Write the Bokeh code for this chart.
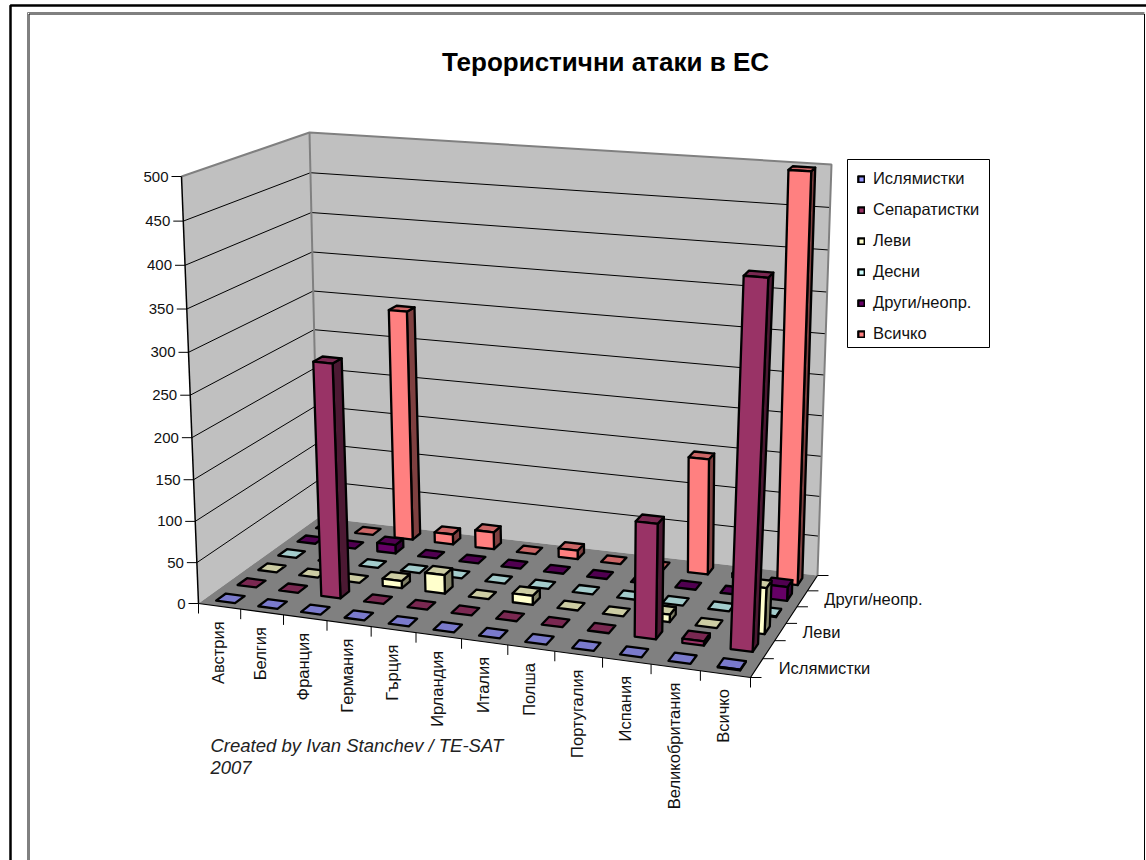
import numpy as np
from bokeh.core.properties import value
from bokeh.embed import file_html
from bokeh.models import Legend, LegendItem
from bokeh.plotting import figure
from bokeh.resources import INLINE

TITLE = "Терористични атаки в ЕС"
NOTE = ["Created by Ivan Stanchev / TE-SAT", "2007"]
categories = ["Австрия", "Белгия", "Франция", "Германия", "Гърция", "Ирландия", "Италия",
              "Полша", "Португалия", "Испания", "Великобритания", "Всичко"]
series_names = ["Ислямистки", "Сепаратистки", "Леви", "Десни", "Други/неопр.", "Всичко"]
depth_labels = {0: "Ислямистки", 2: "Леви", 4: "Други/неопр."}
islamist = [0, 0, 0, 0, 0, 0, 0, 0, 0, 0, 0, 1]
separatist = [0, 0, 283, 0, 0, 0, 0, 0, 0, 136, 5, 424]
left_wing = [0, 0, 0, 9, 23, 0, 11, 0, 0, 9, 0, 55]
right_wing = [0, 0, 0, 0, 0, 0, 0, 0, 0, 0, 0, 1]
other = [0, 0, 11, 0, 0, 0, 0, 0, 0, 0, 0, 17]
total = [0, 0, 294, 13, 22, 0, 11, 0, 0, 145, 5, 498]
series_values = [islamist, separatist, left_wing, right_wing, other, total]
value_ticks = [0, 50, 100, 150, 200, 250, 300, 350, 400, 450, 500]
front_colors = ["#9999FF", "#993366", "#FFFFCC", "#CCFFFF", "#660066", "#FF8080"]

# Camera calibration of the 3-D box: corners on screen
FLOOR = {"fl": (198, 603), "fr": (750, 677), "br": (817, 575), "bl": (318, 517)}
CEIL = {"fl": (181, 176), "fr": (772, 222), "br": (831, 164), "bl": (309, 132)}
VMAX, NC, NS = 500.0, len(categories), len(series_names)
BAR = 0.45
HEIGHT_PERSPECTIVE = 0.05
FONT = value("Liberation Sans")


def homography(c):
    src = [(0, 0), (1, 0), (1, 1), (0, 1)]
    dst = [c["fl"], c["fr"], c["br"], c["bl"]]
    A, b = [], []
    for (u, w), (x, y) in zip(src, dst):
        A.append([u, w, 1, 0, 0, 0, -u * x, -w * x]); b.append(x)
        A.append([0, 0, 0, u, w, 1, -u * y, -w * y]); b.append(y)
    return np.append(np.linalg.solve(np.array(A, float), np.array(b, float)), 1).reshape(3, 3)


HF, HC = homography(FLOOR), homography(CEIL)


def project(cat, ser, val=0.0):
    """category position, series position, value -> screen point"""
    q = np.array([cat / NC, ser / NS, 1.0])
    f = HF @ q
    c = HC @ q
    f, c = f[:2] / f[2], c[:2] / c[2]
    t = val / VMAX
    t = t / (1 + HEIGHT_PERSPECTIVE * (1 - t))
    return tuple(f + (c - f) * t)


def poly(pts):
    return [p[0] for p in pts], [p[1] for p in pts]


def shade(hex_color, k):
    r, g, b = (int(hex_color[i:i + 2], 16) for i in (1, 3, 5))
    return "#%02X%02X%02X" % (int(r * k), int(g * k), int(b * k))


p = figure(width=1146, height=860, x_range=(0, 1146), y_range=(860, 0),
           x_axis_type=None, y_axis_type=None, toolbar_location=None,
           output_backend="svg", min_border=0, outline_line_color=None)
p.margin = (0, 0, 0, 0)

# Sheet frames
p.line([10, 10, 1146], [860, 5, 5], line_color="black", line_width=2.5)
p.line([27, 27, 1144], [860, 12, 12], line_color="#808080", line_width=1)
p.line([28.5, 28.5, 1144, 1144], [860, 13.5, 13.5, 860], line_color="black", line_width=1)

# Walls and floor
walls_x, walls_y = [], []
for pts in ([project(0, 0), project(0, NS), project(0, NS, VMAX), project(0, 0, VMAX)],
            [project(0, NS), project(NC, NS), project(NC, NS, VMAX), project(0, NS, VMAX)]):
    x, y = poly(pts)
    walls_x.append(x)
    walls_y.append(y)
p.patches(walls_x, walls_y, fill_color="#C0C0C0", line_color=None)
x, y = poly([project(0, 0), project(NC, 0), project(NC, NS), project(0, NS)])
p.patch(x, y, fill_color="#808080", line_color=None)

# Gridlines on the walls
for v in value_ticks[1:-1]:
    x, y = poly([project(0, 0, v), project(0, NS, v), project(NC, NS, v)])
    p.line(x, y, line_color="black", line_width=1)

# Wall borders
x, y = poly([project(0, 0, VMAX), project(0, NS, VMAX), project(NC, NS, VMAX), project(NC, NS)])
p.line(x, y, line_color="#808080", line_width=2)
x, y = poly([project(0, NS), project(0, NS, VMAX)])
p.line(x, y, line_color="#808080", line_width=2)

# Value axis
x, y = poly([project(0, 0), project(0, 0, VMAX)])
p.line(x, y, line_color="black", line_width=1.5)
tick_x, tick_y, lab_x, lab_y, lab_t = [], [], [], [], []
for v in value_ticks:
    ax, ay = project(0, 0, v)
    tick_x.append([ax - 10, ax])
    tick_y.append([ay, ay])
    lab_x.append(ax - 13)
    lab_y.append(ay)
    lab_t.append(str(v))
p.multi_line(tick_x, tick_y, line_color="black", line_width=1)
p.text(lab_x, lab_y, text=lab_t, text_font=FONT, text_font_size="15px",
       text_align="right", text_baseline="middle", text_color="#111111")

# Category axis
x, y = poly([project(0, 0), project(NC, 0), project(NC, NS)])
p.line(x, y, line_color="black", line_width=1.2)
tick_x, tick_y = [], []
for i in range(NC + 1):
    ax, ay = project(i, 0)
    tick_x.append([ax, ax])
    tick_y.append([ay, ay + 10])
p.multi_line(tick_x, tick_y, line_color="black", line_width=1)
lab_x, lab_y = [], []
for i in range(NC):
    ax, ay = project(i + 0.5, 0)
    lab_x.append(ax - 2)
    lab_y.append(ay + 15)
p.text(lab_x, lab_y, text=categories, angle=np.pi / 2, text_font=FONT, text_font_size="16.5px",
       text_align="right", text_baseline="middle", text_color="#111111")

# Series axis
tick_x, tick_y = [], []
for j in range(NS + 1):
    ax, ay = project(NC, j)
    tick_x.append([ax, ax + 11])
    tick_y.append([ay, ay])
p.multi_line(tick_x, tick_y, line_color="black", line_width=1)
lab_x, lab_y, lab_t = [], [], []
for j, name in depth_labels.items():
    ax, ay = project(NC, j + 0.5)
    lab_x.append(ax + 22)
    lab_y.append(ay)
    lab_t.append(name)
p.text(lab_x, lab_y, text=lab_t, text_font=FONT, text_font_size="16.5px",
       text_align="left", text_baseline="middle", text_color="#111111")

# Bars, painted from the back row to the front row
legend_items = []
for j in range(NS - 1, -1, -1):
    base = front_colors[j]
    sides = ([], [])
    tops = ([], [])
    fronts = ([], [])
    for i, v in enumerate(series_values[j]):
        u0, u1 = i + 0.5 - BAR / 2, i + 0.5 + BAR / 2
        w0, w1 = j + 0.5 - BAR / 2, j + 0.5 + BAR / 2
        if v > 0:
            x, y = poly([project(u1, w0), project(u1, w1), project(u1, w1, v), project(u1, w0, v)])
            sides[0].append(x); sides[1].append(y)
            x, y = poly([project(u0, w0), project(u1, w0), project(u1, w0, v), project(u0, w0, v)])
            fronts[0].append(x); fronts[1].append(y)
        x, y = poly([project(u0, w0, v), project(u1, w0, v), project(u1, w1, v), project(u0, w1, v)])
        tops[0].append(x); tops[1].append(y)
    style = dict(line_color="black", line_width=2.3, line_join="round")
    p.patches(sides[0], sides[1], fill_color=shade(base, 0.5), **style)
    p.patches(tops[0], tops[1], fill_color=shade(base, 0.8), **style)
    r = p.patches(fronts[0], fronts[1], fill_color=base, **style)
    legend_items.insert(0, LegendItem(label=series_names[j], renderers=[r]))

# Legend: box first, then the entries on top of it
p.quad(left=[847], right=[989], top=[159], bottom=[347], fill_color="white",
       line_color="black", line_width=1)
legend = Legend(items=legend_items, location=(857, 860 - 343), glyph_width=8, glyph_height=8,
                label_text_font="Liberation Sans", label_text_font_size="16.5px", label_text_color="#111111",
                label_height=16, spacing=12, padding=5, margin=0, label_standoff=8,
                border_line_color=None, background_fill_alpha=0)
p.add_layout(legend, "center")

# Title and note
p.text([605], [61], text=[TITLE], text_font=FONT, text_font_size="26px", text_font_style="bold",
       text_align="center", text_baseline="middle", text_color="black")
p.text([210, 210], [745, 767], text=NOTE, text_font=FONT, text_font_size="18.5px",
       text_font_style="italic", text_align="left", text_baseline="middle", text_color="#222222")

open("out.html", "w").write(file_html(p, INLINE))
